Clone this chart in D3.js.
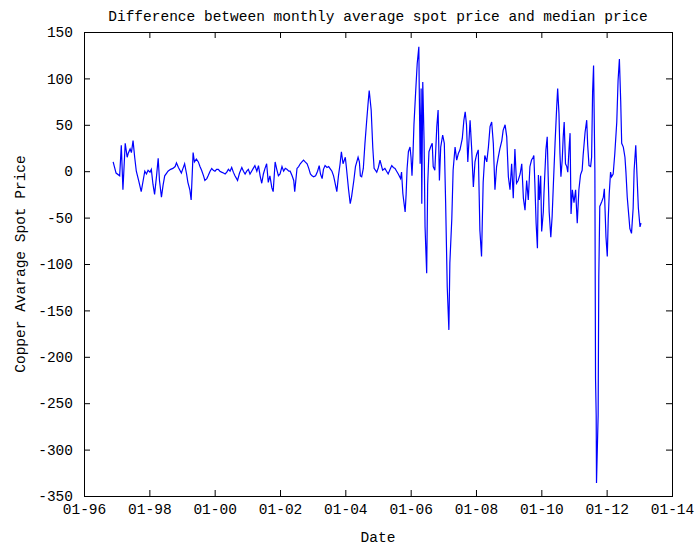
<!DOCTYPE html>
<html>
<head>
<meta charset="utf-8">
<script src="https://cdn.jsdelivr.net/npm/d3@7"></script>
<style>
  html, body { margin: 0; padding: 0; background: #fff; }
  svg text { font-family: "Liberation Mono", "DejaVu Sans Mono", monospace; font-size: 14.5px; fill: #000; }
</style>
</head>
<body>
<svg id="chart" width="695" height="546"></svg>
<script>
// Sample dates as decimal years, and the spread between the monthly average and the median price.
const dates = [
  1996.89,1996.98,1997.09,1997.14,1997.19,1997.26,1997.32,1997.35,1997.41,1997.45,1997.50,1997.55,1997.60,1997.67,1997.75,1997.81,1997.86,1997.91,1997.96,
  1998.02,1998.06,1998.11,1998.16,1998.22,1998.27,1998.31,1998.37,1998.42,1998.47,1998.53,1998.57,1998.65,1998.72,1998.79,1998.83,1998.89,1998.98,
  1999.03,1999.08,1999.14,1999.18,1999.24,1999.28,1999.34,1999.38,1999.44,1999.50,1999.55,1999.60,1999.66,1999.70,1999.76,1999.80,1999.86,1999.91,1999.96,
  2000.01,2000.06,2000.11,2000.16,2000.21,2000.27,2000.32,2000.37,2000.42,2000.47,2000.52,2000.57,2000.62,2000.67,2000.70,2000.76,2000.83,2000.88,2000.93,2000.98,
  2001.03,2001.08,2001.13,2001.18,2001.23,2001.29,2001.34,2001.39,2001.44,2001.49,2001.54,2001.59,2001.64,2001.69,2001.75,2001.79,2001.85,2001.90,2001.95,
  2002.00,2002.06,2002.11,2002.16,2002.21,2002.27,2002.31,2002.37,2002.42,2002.45,2002.52,2002.57,2002.62,2002.67,2002.72,2002.77,2002.83,2002.88,2002.93,2002.98,
  2003.03,2003.09,2003.15,2003.20,2003.24,2003.29,2003.33,2003.38,2003.44,2003.49,2003.55,2003.59,2003.64,2003.67,2003.74,2003.79,2003.84,2003.88,2003.93,
  2004.00,2004.03,2004.10,2004.15,2004.19,2004.26,2004.31,2004.39,2004.43,2004.46,2004.50,2004.55,2004.60,2004.65,2004.70,2004.73,2004.79,2004.84,2004.88,2004.96,
  2005.01,2005.06,2005.14,2005.21,2005.26,2005.31,2005.37,2005.42,2005.47,2005.52,2005.57,2005.62,2005.69,2005.72,2005.76,2005.78,2005.83,2005.86,2005.89,2005.93,2005.98,
  2006.01,2006.04,2006.07,2006.10,2006.15,2006.20,2006.25,2006.26,2006.29,2006.32,2006.34,2006.37,2006.41,2006.44,2006.49,2006.52,2006.56,2006.61,2006.66,2006.69,2006.74,2006.80,2006.84,2006.88,2006.92,2006.98,
  2007.03,2007.07,2007.12,2007.17,2007.20,2007.26,2007.30,2007.36,2007.41,2007.46,2007.51,2007.58,2007.63,2007.67,2007.71,2007.75,2007.82,2007.87,2007.92,2007.97,
  2008.02,2008.07,2008.12,2008.17,2008.22,2008.27,2008.33,2008.38,2008.43,2008.48,2008.53,2008.58,2008.63,2008.68,2008.73,2008.79,2008.83,2008.89,2008.94,2008.99,
  2009.04,2009.09,2009.14,2009.19,2009.24,2009.29,2009.35,2009.40,2009.45,2009.50,2009.55,2009.60,2009.65,2009.70,2009.75,2009.77,2009.80,2009.84,2009.88,2009.91,2009.94,2009.98,
  2010.01,2010.06,2010.08,2010.14,2010.18,2010.21,2010.24,2010.29,2010.33,2010.37,2010.42,2010.47,2010.50,2010.54,2010.57,2010.60,2010.64,2010.67,2010.70,2010.74,2010.78,2010.81,2010.85,2010.88,2010.91,2010.95,
  2011.00,2011.05,2011.10,2011.15,2011.20,2011.25,2011.28,2011.34,2011.39,2011.42,2011.46,2011.51,2011.54,2011.57,2011.60,2011.64,2011.66,2011.68,2011.69,2011.74,2011.76,2011.79,2011.85,2011.90,2011.93,2011.98,
  2012.02,2012.05,2012.08,2012.12,2012.15,2012.20,2012.25,2012.31,2012.35,2012.39,2012.43,2012.46,2012.51,2012.56,2012.59,2012.63,2012.68,2012.71,2012.76,2012.81,2012.84,2012.89,2012.93,2012.97,
  2013.02,2013.05
];
const values = [
  10,-2,-5,28,-20,30,15,19,24,20,33,15,0,-10,-22,-10,0,-3,1,
  -1,2,-14,-25,-5,14,-10,-28,-15,-5,-2,0,2,3,5,9,4,-2,
  3,8,-3,-12,-20,-31,20,10,13,10,5,1,-5,-10,-8,-5,0,3,1,
  0,2,2,0,-1,-2,-3,-1,2,0,4,-1,-5,-8,-10,-2,4,0,-3,0,
  2,-3,0,3,6,0,6,-5,-13,-3,3,8,-12,-5,-18,-22,10,2,-5,
  -3,5,0,3,2,0,0,-5,-10,-22,3,5,8,10,12,10,8,3,-3,-5,
  -6,-5,0,6,-3,-8,2,6,4,5,2,0,-5,-10,-22,-5,8,21,8,
  15,5,-20,-35,-28,-10,5,15,10,-5,-6,3,30,53,75,87,66,25,3,-1,
  4,12,1,3,0,-3,2,6,4,3,0,-3,-8,-1,-24,-30,-44,-25,3,21,26,
  15,-5,18,50,84,116,134,96,8,89,-35,96,33,-60,-110,-15,21,26,30,5,1,48,66,-10,26,39,
  30,-33,-125,-171,-99,-51,1,26,12,19,23,35,55,64,50,10,55,23,-17,10,
  18,23,-64,-92,-12,17,10,26,48,53,30,-20,5,15,24,33,44,50,37,-6,
  -20,8,-29,24,-13,-10,-3,8,-29,-42,-10,-31,5,12,15,17,-12,-56,-83,-4,-31,-5,
  -65,-44,-24,23,37,-6,-44,-71,-49,-13,30,69,89,62,19,-6,12,37,53,8,5,-1,25,41,-46,-20,
  -34,-20,-56,-20,-4,1,17,42,55,28,6,5,15,85,114,1,-223,-263,-336,-263,-114,-38,-33,-28,-19,-71,
  -92,-51,-24,-1,-6,-3,19,53,98,121,76,30,26,15,-1,-28,-49,-62,-67,-40,1,28,-6,-40,
  -60,-56
];

const yTicks = [150, 100, 50, 0, -50, -100, -150, -200, -250, -300, -350];
const xTickYears = [1996, 1998, 2000, 2002, 2004, 2006, 2008, 2010, 2012, 2014];

const titleText = "Difference between monthly average spot price and median price";
const xLabel = "Date";
const yLabel = "Copper Avarage Spot Price";

// Turn a decimal year into a Date.
function yearToDate(t) {
  const yr = Math.floor(t);
  const start = new Date(yr, 0, 1).getTime();
  const end = new Date(yr + 1, 0, 1).getTime();
  return new Date(start + (t - yr) * (end - start));
}

const series = dates.map((t, i) => ({ date: yearToDate(t), value: values[i] }));

const margin = { top: 32, right: 23, bottom: 50, left: 84 };
const W = 695, H = 546;
const innerW = W - margin.left - margin.right;
const innerH = H - margin.top - margin.bottom;

const svg = d3.select("#chart");
const plot = svg.append("g").attr("transform", `translate(${margin.left},${margin.top})`);

const xScale = d3.scaleTime()
  .domain([new Date(1996, 0, 1), new Date(2014, 0, 1)])
  .range([0, innerW]);
const yScale = d3.scaleLinear()
  .domain([-350, 150])
  .range([innerH, 0]);

const xTickDates = xTickYears.map(yr => new Date(yr, 0, 1));
const fmt = d3.timeFormat("%m-%y");
const tickLen = 6;

// Axes with inward ticks, mirrored on the top and right edges.
const axLeft = plot.append("g")
  .call(d3.axisLeft(yScale).tickValues(yTicks).tickSizeInner(-tickLen).tickSizeOuter(0).tickPadding(11).tickFormat(d => String(d)));
const axRight = plot.append("g").attr("transform", `translate(${innerW},0)`)
  .call(d3.axisRight(yScale).tickValues(yTicks).tickSizeInner(-tickLen).tickSizeOuter(0).tickFormat(""));
const axBottom = plot.append("g").attr("transform", `translate(0,${innerH})`)
  .call(d3.axisBottom(xScale).tickValues(xTickDates).tickSizeInner(-tickLen).tickSizeOuter(0).tickPadding(8).tickFormat(fmt));
const axTop = plot.append("g")
  .call(d3.axisTop(xScale).tickValues(xTickDates).tickSizeInner(-tickLen).tickSizeOuter(0).tickFormat(""));

[axLeft, axRight, axBottom, axTop].forEach(a => {
  a.select(".domain").remove();
  a.selectAll(".tick line").attr("stroke", "#000").attr("stroke-width", 1);
  a.selectAll("text").attr("font-family", null).attr("font-size", null);
});

// Plot border.
plot.append("rect")
  .attr("x", 0.5).attr("y", 0.5)
  .attr("width", innerW).attr("height", innerH)
  .attr("fill", "none").attr("stroke", "#000").attr("stroke-width", 1);

// Data line.
const line = d3.line()
  .x(d => xScale(d.date))
  .y(d => yScale(d.value));

plot.append("path")
  .datum(series)
  .attr("fill", "none")
  .attr("stroke", "#0000ff")
  .attr("stroke-width", 1.2)
  .attr("stroke-linejoin", "miter")
  .attr("d", line);

// Title and axis labels.
svg.append("text")
  .attr("x", margin.left + innerW / 2)
  .attr("y", 21)
  .attr("text-anchor", "middle")
  .text(titleText);

svg.append("text")
  .attr("x", margin.left + innerW / 2)
  .attr("y", 542)
  .attr("text-anchor", "middle")
  .text(xLabel);

svg.append("text")
  .attr("transform", `translate(25,${margin.top + innerH / 2}) rotate(-90)`)
  .attr("text-anchor", "middle")
  .text(yLabel);
</script>
</body>
</html>
